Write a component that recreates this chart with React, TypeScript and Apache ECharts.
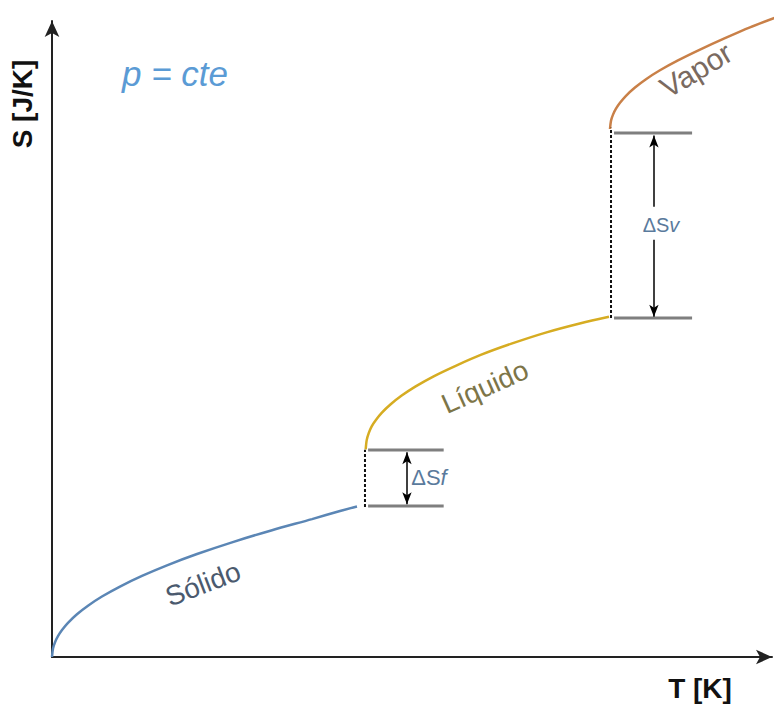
import React, { useEffect, useRef } from "react";
import * as echarts from "echarts";

// Temperature (T) and entropy (S) readings along each phase curve
const solidT = [0, 0.14, 0.42, 0.83, 1.39, 2.22, 3.47, 5.0, 6.94, 9.44, 12.5, 15.97, 20.14, 25.0, 30.56, 36.11, 40.0, 42.36];
const solidS = [0, 1.35, 2.33, 3.29, 4.25, 5.38, 6.73, 8.07, 9.51, 11.08, 12.75, 14.42, 16.19, 18.03, 19.94, 21.68, 22.96, 23.66];

const liquidT = [43.57, 43.71, 43.99, 44.4, 44.96, 45.79, 47.04, 48.57, 50.51, 53.01, 56.07, 59.54, 63.71, 68.57, 73.43, 77.36];
const liquidS = [32.66, 34.1, 35.19, 36.26, 37.23, 38.38, 39.73, 41.1, 42.55, 44.14, 45.79, 47.5, 49.23, 51.01, 52.48, 53.51];

const vaporT = [77.5, 77.64, 77.92, 78.33, 78.89, 79.72, 80.97, 82.5, 84.44, 86.94, 90.0, 93.47, 96.94, 101.11];
const vaporS = [83.02, 84.32, 85.28, 86.21, 87.14, 88.24, 89.54, 90.85, 92.25, 93.8, 95.5, 97.3, 99.0, 100.8];

// Phase change levels: [T start, T end, S]
const fusionLevels = [
  [43.9, 54.4, 32.55],
  [43.9, 54.4, 23.74],
];
const vaporLevels = [
  [78.06, 88.9, 82.39],
  [78.06, 88.9, 53.3],
];
// Dotted verticals: [T, S low, S high]
const transitions = [
  [43.47, 23.6, 32.6],
  [77.64, 53.3, 83.2],
];
// Arrow measurements
const fusionArrow = { t: 49.3, top: 32.2, bottom: 24.0 };
const vaporArrow = { t: 83.6, top: 82.0, gapTop: 70.8, gapBottom: 65.6, bottom: 53.5 };

const pairs = (ts: number[], ss: number[]) => ts.map((t, i) => [t, ss[i]]);

export default function App() {
  const ref = useRef<HTMLDivElement>(null);
  useEffect(() => {
    if (!ref.current) return;
    const chart = echarts.init(ref.current, undefined, { renderer: "svg" });
    const font = "Liberation Sans, Arial, sans-serif";
    const curve = (name: string, data: number[][], color: string) => ({
      name,
      type: "line",
      data,
      showSymbol: false,
      smooth: 0.3,
      clip: false,
      silent: true,
      lineStyle: { color, width: 2.5 },
    });
    const seg = (data: number[][], color: string, width: number, type: any, markLine?: any) => ({
      type: "line",
      data,
      showSymbol: false,
      clip: false,
      silent: true,
      lineStyle: { color, width, type },
      ...(markLine ? { markLine } : {}),
    });
    const arrowLine = (t: number, s0: number, s1: number, symbol: string[]) => ({
      silent: true,
      symbol,
      symbolSize: [7, 12],
      label: { show: false },
      lineStyle: { color: "#000", width: 1.5, type: "solid" },
      data: [[{ coord: [t, s0] }, { coord: [t, s1] }]],
    });

    const series: any[] = [
      curve("Sólido", pairs(solidT, solidS), "#5b86b5"),
      curve("Líquido", pairs(liquidT, liquidS), "#d6ac22"),
      curve("Vapor", pairs(vaporT, vaporS), "#c98048"),
      seg([[fusionLevels[0][0], fusionLevels[0][2]], [fusionLevels[0][1], fusionLevels[0][2]]], "#7f7f7f", 3, "solid",
        arrowLine(fusionArrow.t, fusionArrow.top, fusionArrow.bottom, ["arrow", "arrow"])),
      seg([[fusionLevels[1][0], fusionLevels[1][2]], [fusionLevels[1][1], fusionLevels[1][2]]], "#7f7f7f", 3, "solid"),
      seg([[vaporLevels[0][0], vaporLevels[0][2]], [vaporLevels[0][1], vaporLevels[0][2]]], "#7f7f7f", 3, "solid",
        arrowLine(vaporArrow.t, vaporArrow.top, vaporArrow.gapTop, ["arrow", "none"])),
      seg([[vaporLevels[1][0], vaporLevels[1][2]], [vaporLevels[1][1], vaporLevels[1][2]]], "#7f7f7f", 3, "solid",
        arrowLine(vaporArrow.t, vaporArrow.gapBottom, vaporArrow.bottom, ["none", "arrow"])),
      ...transitions.map((tr) => seg([[tr[0], tr[1]], [tr[0], tr[2]]], "#111", 2, [3, 2])),
    ];

    const axisLine = { show: true, symbol: ["none", "arrow"], symbolSize: [11, 16], lineStyle: { color: "#222", width: 2 } };
    chart.setOption({
      animation: false,
      backgroundColor: "#fff",
      grid: { left: 52, right: 8, top: 21, bottom: 47 },
      xAxis: {
        type: "value",
        min: 0,
        max: 100,
        axisLine,
        axisTick: { show: false },
        axisLabel: { show: false },
        splitLine: { show: false },
      },
      yAxis: {
        type: "value",
        min: 0,
        max: 100,
        axisLine,
        axisTick: { show: false },
        axisLabel: { show: false },
        splitLine: { show: false },
      },
      series,
      graphic: [
        { type: "text", x: 22, y: 104, rotation: Math.PI / 2, style: { text: "S [J/K]", font: `bold 28px ${font}`, fill: "#111", textAlign: "center", textVerticalAlign: "middle" } },
        { type: "text", x: 700, y: 688, style: { text: "T [K]", font: `bold 28px ${font}`, fill: "#111", textAlign: "center", textVerticalAlign: "middle" } },
        { type: "text", x: 175, y: 73, style: { text: "p = cte", font: `italic 35px ${font}`, fill: "#5b9bd5", textAlign: "center", textVerticalAlign: "middle" } },
        { type: "text", x: 203, y: 584, rotation: (21 * Math.PI) / 180, style: { text: "Sólido", font: `28px ${font}`, fill: "#4b5a6e", textAlign: "center", textVerticalAlign: "middle" } },
        { type: "text", x: 485, y: 387, rotation: (24 * Math.PI) / 180, style: { text: "Líquido", font: `28px ${font}`, fill: "#7d7548", textAlign: "center", textVerticalAlign: "middle" } },
        { type: "text", x: 696, y: 70, rotation: (31 * Math.PI) / 180, style: { text: "Vapor", font: `30px ${font}`, fill: "#7a6a60", textAlign: "center", textVerticalAlign: "middle" } },
        { type: "text", x: 429, y: 477, style: { rich: { a: { font: `22px ${font}`, fill: "#5a7a9c" }, b: { font: `italic 22px ${font}`, fill: "#5a7a9c" } }, text: "{a|ΔS}{b|f}", textAlign: "center", textVerticalAlign: "middle" } },
        { type: "text", x: 661, y: 225, style: { rich: { a: { font: `20px ${font}`, fill: "#5a7a9c" }, b: { font: `italic 20px ${font}`, fill: "#5a7a9c" } }, text: "{a|ΔS}{b|v}", textAlign: "center", textVerticalAlign: "middle" } },
      ],
    });
    return () => chart.dispose();
  }, []);
  return <div ref={ref} style={{ position: "fixed", left: 0, top: 0, width: 780, height: 704 }} />;
}
